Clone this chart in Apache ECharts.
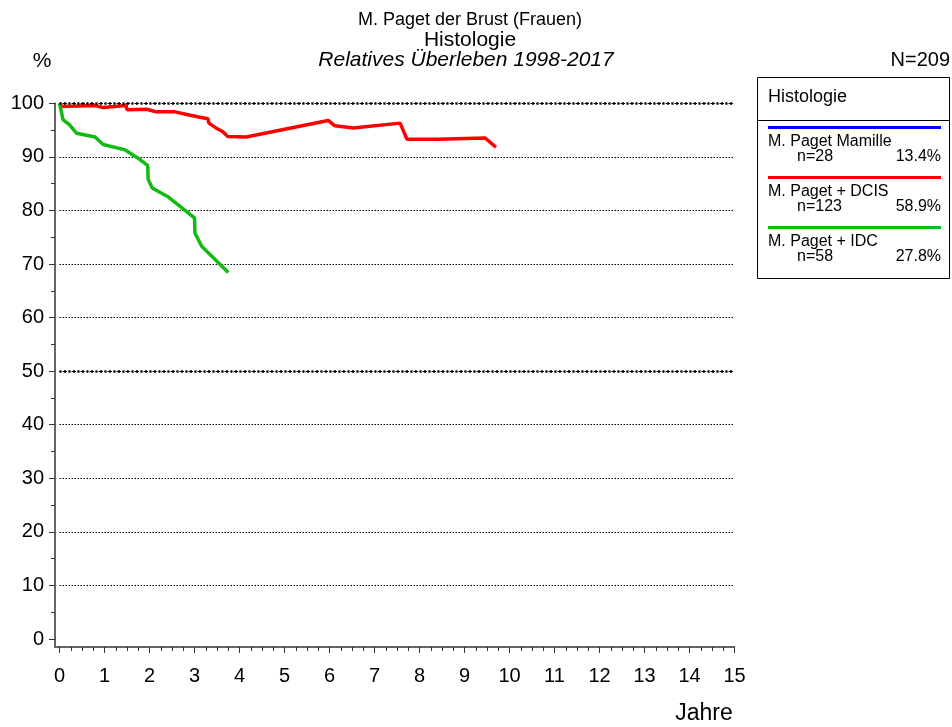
<!DOCTYPE html>
<html>
<head>
<meta charset="utf-8">
<title>M. Paget der Brust - Histologie</title>
<script src="https://cdn.jsdelivr.net/npm/echarts@6/dist/echarts.min.js"></script>
<style>
  html, body { margin: 0; padding: 0; background: #fff; }
  #survival-chart { width: 952px; height: 727px; }
</style>
</head>
<body>
<div id="survival-chart"></div>
<script>
// chart values
var titleLines = ["M. Paget der Brust (Frauen)", "Histologie", "Relatives Überleben 1998-2017"];
var totalLabel = "N=209";
var legendTitle = "Histologie";
var groupNames = ["M. Paget Mamille", "M. Paget + DCIS", "M. Paget + IDC"];
var groupCounts = ["n=28", "n=123", "n=58"];
var groupShares = ["13.4%", "58.9%", "27.8%"];
var groupColors = ["#0000ff", "#ff0000", "#11bb11"];

// Mamille curve is not drawn in the reference
var mamilleYears = [];
var mamilleSurv = [];

var dcisYears = [0, 0.05, 0.8, 0.97, 1.48, 1.5, 1.94, 2.15, 2.57, 2.83, 3.12, 3.3, 3.32, 3.46, 3.63, 3.74, 4.15, 5.97, 6.12, 6.53, 7.57, 7.72, 8.4, 9.46, 9.7];
var dcisSurv = [100, 99.4, 99.6, 99.2, 99.6, 98.8, 98.9, 98.4, 98.4, 97.9, 97.4, 97.1, 96.3, 95.5, 94.7, 93.8, 93.7, 96.8, 95.8, 95.4, 96.3, 93.3, 93.3, 93.5, 91.8];

var idcYears = [0, 0.08, 0.22, 0.38, 0.79, 0.97, 1.46, 1.72, 1.96, 1.97, 2.06, 2.42, 3.0, 3.01, 3.16, 3.75];
var idcSurv = [100, 96.9, 96.0, 94.4, 93.7, 92.3, 91.3, 89.9, 88.4, 85.8, 84.2, 82.5, 78.6, 75.8, 73.3, 68.4];

// gridlines drawn heavier
var boldLevels = [100, 50];

function pairs(xs, ys) {
  var out = [];
  for (var i = 0; i < xs.length; i++) out.push([xs[i], ys[i]]);
  return out;
}

var fontName = "'Liberation Sans', Arial, sans-serif";
var myChart = echarts.init(document.getElementById("survival-chart"));

// legend box built by hand (graphic)
var legendGraphics = [
  { type: "rect", shape: { x: 757.5, y: 77.5, width: 192, height: 201 },
    style: { fill: "#fff", stroke: "#000", lineWidth: 1 } },
  { type: "line", shape: { x1: 757.5, y1: 120.5, x2: 949.5, y2: 120.5 },
    style: { stroke: "#000", lineWidth: 1 } },
  { type: "text", x: 768, y: 97, style: { text: legendTitle, font: "18px " + fontName,
    fill: "#000", verticalAlign: "middle" } }
];
for (var g = 0; g < groupNames.length; g++) {
  var rowY = 127.5 + g * 50;
  legendGraphics.push(
    { type: "line", shape: { x1: 768, y1: rowY, x2: 941, y2: rowY },
      style: { stroke: groupColors[g], lineWidth: 3 } },
    { type: "text", x: 768, y: rowY + 14.5, style: { text: groupNames[g], font: "16px " + fontName,
      fill: "#000", verticalAlign: "middle" } },
    { type: "text", x: 797, y: rowY + 29.5, style: { text: groupCounts[g], font: "16px " + fontName,
      fill: "#000", verticalAlign: "middle" } },
    { type: "text", x: 941, y: rowY + 29.5, style: { text: groupShares[g], font: "16px " + fontName,
      fill: "#000", align: "right", verticalAlign: "middle" } }
  );
}

var headGraphics = [
  { type: "text", x: 470, y: 20, style: { text: titleLines[0], font: "18px " + fontName,
    fill: "#000", align: "center", verticalAlign: "middle" } },
  { type: "text", x: 470, y: 40, style: { text: titleLines[1], font: "21px " + fontName,
    fill: "#000", align: "center", verticalAlign: "middle" } },
  { type: "text", x: 466, y: 60, style: { text: titleLines[2], font: "italic 21px " + fontName,
    fill: "#000", align: "center", verticalAlign: "middle" } },
  { type: "text", x: 42, y: 61, style: { text: "%", font: "21px " + fontName,
    fill: "#000", align: "center", verticalAlign: "middle" } },
  { type: "text", x: 950, y: 60, style: { text: totalLabel, font: "20px " + fontName,
    fill: "#000", align: "right", verticalAlign: "middle" } },
  { type: "text", x: 704, y: 714, style: { text: "Jahre", font: "23px " + fontName,
    fill: "#000", align: "center", verticalAlign: "middle" } },
  // corner piece where the two offset axis lines meet
  { type: "polyline", shape: { points: [[55, 639], [55, 647], [60, 647]] },
    style: { stroke: "#333", lineWidth: 1.5, fill: null } }
];

var boldLines = boldLevels.map(function (v) { return { yAxis: v }; });

myChart.setOption({
  animation: false,
  backgroundColor: "#fff",
  grid: { left: 59.5, right: 217.5, top: 103.3, bottom: 88 },
  xAxis: {
    type: "value", min: 0, max: 15, interval: 1, offset: 8,
    axisLine: { onZero: false, lineStyle: { color: "#333", width: 1.5 } },
    axisTick: { length: 6, lineStyle: { color: "#333" } },
    minorTick: { show: true, splitNumber: 4, length: 4, lineStyle: { color: "#333" } },
    axisLabel: { margin: 19, color: "#000", fontSize: 20, fontFamily: fontName },
    splitLine: { show: false }
  },
  yAxis: {
    type: "value", min: 0, max: 100, interval: 10, offset: 4.5,
    axisLine: { show: true, onZero: false, lineStyle: { color: "#333", width: 1.5 } },
    axisTick: { show: true, length: 6, lineStyle: { color: "#333" } },
    minorTick: { show: true, splitNumber: 2, length: 4, lineStyle: { color: "#333" } },
    axisLabel: { margin: 11, color: "#000", fontSize: 20, fontFamily: fontName },
    splitLine: { show: true, showMinLine: false,
      lineStyle: { color: "#000", width: 1, type: [1.5, 1.5] } }
  },
  graphic: headGraphics.concat(legendGraphics),
  series: [
    { name: groupNames[0], type: "line", showSymbol: false, data: pairs(mamilleYears, mamilleSurv),
      lineStyle: { color: groupColors[0], width: 3.5 },
      markLine: { silent: true, symbol: "none", label: { show: false },
        lineStyle: { color: "#000", width: 2.5, type: [2, 2.5] }, data: boldLines } },
    { name: groupNames[1], type: "line", showSymbol: false, data: pairs(dcisYears, dcisSurv),
      lineStyle: { color: groupColors[1], width: 3.5 } },
    { name: groupNames[2], type: "line", showSymbol: false, data: pairs(idcYears, idcSurv),
      lineStyle: { color: groupColors[2], width: 3.5 } }
  ]
});
</script>
</body>
</html>
